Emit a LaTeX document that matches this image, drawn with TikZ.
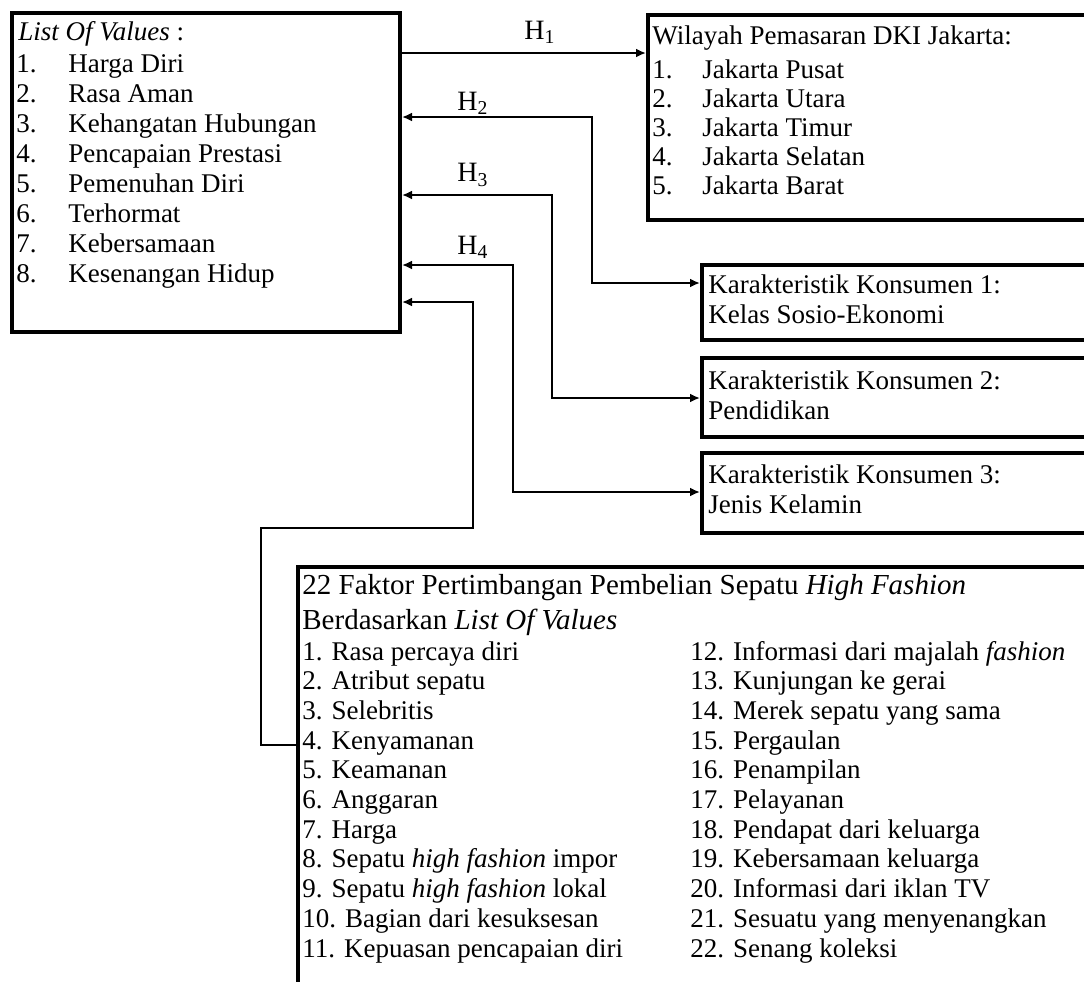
\documentclass[tikz,border=0pt]{standalone}
\usepackage{fontspec}
\setmainfont{Liberation Serif}
\usetikzlibrary{arrows.meta,fit}

\tikzset{
  kotak/.style={draw, line width=2pt, inner sep=0pt},
  panah/.style={line width=1pt, -{Latex[length=5pt,width=4.5pt]}},
  panahdua/.style={line width=1pt, {Latex[length=5pt,width=4.5pt]}-{Latex[length=5pt,width=4.5pt]}},
  teks/.style={anchor=base west, inner sep=0pt, font=\fontsize{13.5}{15}\selectfont},
  judul/.style={teks, font=\fontsize{14.5}{16}\selectfont},
  hlabel/.style={inner sep=0pt, font=\fontsize{14}{15}\selectfont},
}

\begin{document}
\begin{tikzpicture}[x=0.5pt,y=-0.5pt]
    \useasboundingbox (0,0) rectangle (1084,982) ;
    \clip (0,0) rectangle (1084,982) ;
    % kotak
    \node [kotak, fit={(12,13) (400,332)}] (lov) {} ;
    \node [kotak, fit={(648,15) (1110,220)}] (wil) {} ;
    \node [kotak, fit={(702,265) (1110,340)}] (kk1) {} ;
    \node [kotak, fit={(702,358) (1110,437)}] (kk2) {} ;
    \node [kotak, fit={(702,453) (1110,533)}] (kk3) {} ;
    \node [kotak, fit={(298,567) (1110,1010)}] (faktor) {} ;

    % list of values
    \node [teks] (lovjudul) at (18,40) {\textit{List Of Values} :} ;
    \foreach \t [count=\i] in {Harga Diri, Rasa Aman, Kehangatan Hubungan,
        Pencapaian Prestasi, Pemenuhan Diri, Terhormat, Kebersamaan,
        Kesenangan Hidup} {
      \node [teks] (lovno\i) at (16,{72+30*(\i-1)}) {\i.} ;
      \node [teks] (lovit\i) at (68,{72+30*(\i-1)}) {\t} ;
    }

    % wilayah
    \node [teks] (wiljudul) at (652,44) {Wilayah Pemasaran DKI Jakarta:} ;
    \foreach \t [count=\i] in {Pusat, Utara, Timur, Selatan, Barat} {
      \node [teks] (wilno\i) at (652,{78+29*(\i-1)}) {\i.} ;
      \node [teks] (wilit\i) at (702,{78+29*(\i-1)}) {Jakarta \t} ;
    }

    % karakteristik
    \node [teks] (kk1a) at (708,293) {Karakteristik Konsumen 1:} ;
    \node [teks] (kk1b) at (708,323) {Kelas Sosio-Ekonomi} ;
    \node [teks] (kk2a) at (708,389) {Karakteristik Konsumen 2:} ;
    \node [teks] (kk2b) at (708,419) {Pendidikan} ;
    \node [teks] (kk3a) at (708,483) {Karakteristik Konsumen 3:} ;
    \node [teks] (kk3b) at (708,513) {Jenis Kelamin} ;

    % 22 faktor
    \node [judul] (fjudul1) at (302,594) {22 Faktor Pertimbangan Pembelian Sepatu \textit{High Fashion}} ;
    \node [judul] (fjudul2) at (302,629) {Berdasarkan \textit{List Of Values}} ;
    \foreach \t [count=\i] in {Rasa percaya diri, Atribut sepatu, Selebritis,
        Kenyamanan, Keamanan, Anggaran, Harga,
        {Sepatu \textit{high fashion} impor}, {Sepatu \textit{high fashion} lokal},
        Bagian dari kesuksesan, Kepuasan pencapaian diri} {
      \node [teks] (fki\i) at (302,{660+29.7*(\i-1)}) {\i. \t} ;
    }
    \foreach \t [count=\i from 12] in {{Informasi dari majalah \textit{fashion}},
        Kunjungan ke gerai, Merek sepatu yang sama, Pergaulan, Penampilan,
        Pelayanan, Pendapat dari keluarga, Kebersamaan keluarga,
        Informasi dari iklan TV, Sesuatu yang menyenangkan, Senang koleksi} {
      \node [teks] (fka\i) at (690,{660+29.7*(\i-12)}) {\i. \t} ;
    }

    % hipotesis
    \draw [panah] (lov.east |- 0,53) -- (wil.west |- 0,53) ;
    \node [hlabel] (h1) at (540,32) {H\textsubscript{1}} ;
    \draw [panahdua] (lov.east |- 0,117) -- (592,117) |- (kk1.west |- 0,283) ;
    \node [hlabel] (h2) at (473,103) {H\textsubscript{2}} ;
    \draw [panahdua] (lov.east |- 0,195) -- (552,195) |- (kk2.west |- 0,398) ;
    \node [hlabel] (h3) at (473,175) {H\textsubscript{3}} ;
    \draw [panahdua] (lov.east |- 0,265) -- (513,265) |- (kk3.west |- 0,492) ;
    \node [hlabel] (h4) at (473,247) {H\textsubscript{4}} ;
    \draw [panah] (faktor.west |- 0,745) -| (261,528) -| (473,302) -- (lov.east |- 0,302) ;
\end{tikzpicture}
\end{document}
